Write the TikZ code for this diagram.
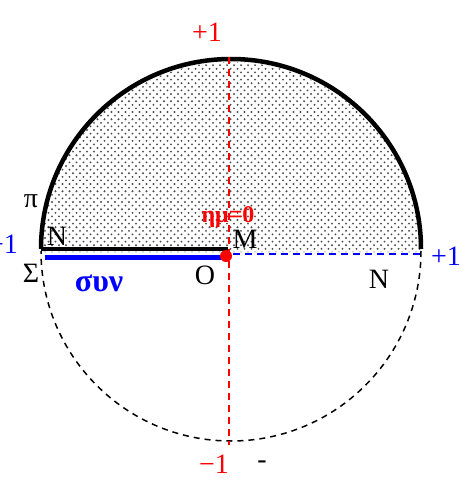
\documentclass[tikz,border=0pt]{standalone}
\usepackage{fontspec}
\setmainfont{Liberation Serif}
\begin{document}
\begin{tikzpicture}[x=1pt,y=-1pt,
  lbl/.style={inner sep=0pt,font=\fontsize{28}{28}\selectfont},
  redlbl/.style={lbl,text=red},
  bluelbl/.style={lbl,text=blue}]
\useasboundingbox (0,0) rectangle (461,482);
\fill[white] (0,0) rectangle (461,482);
% dotted fill of upper half disc
\begin{scope}
\clip (41,252) arc[start angle=180,end angle=360,radius=190] -- cycle;
\foreach \j in {0,...,54}{
  \pgfmathsetmacro{\yy}{58+\j*3.6}
  \pgfmathsetmacro{\off}{mod(\j,2)*3.5}
  \foreach \i in {0,...,55}{
    \fill[black!70] ({38+\off+\i*7},\yy) circle[radius=1.05];
  }
}
\end{scope}
% lower dashed half circle
\coordinate (R) at (421,251);
\coordinate (L) at (41,251);
\draw[black,line width=1.5pt,dash pattern=on 6pt off 5pt] (R) arc[start angle=0,end angle=180,radius=190];
% upper thick arc
\coordinate (A) at (41,249);
\coordinate (M) at (228,249);
\draw[black,line width=4.5pt] (A) arc[start angle=180,end angle=360,radius=190];
\draw[black,line width=4pt] (A) -- (M);
% red vertical dashed axis
\coordinate (T) at (229,57);
\coordinate (B) at (229,445);
\draw[red,line width=1.5pt,dash pattern=on 7pt off 5pt] (T) -- (B);
% blue cos segment
\coordinate (Cl) at (45,257);
\coordinate (Cr) at (226,257);
\draw[blue,line width=5pt] (Cl) -- (Cr);
% blue dashed right
\coordinate (Dl) at (233,254);
\coordinate (Dr) at (420,254);
\draw[blue,line width=1.5pt,dash pattern=on 7pt off 5pt] (Dl) -- (Dr);
% red point
\fill[red] (226,256) circle[radius=6];
% labels
\node[redlbl] (p1) at (207,32) {+1};
\node[redlbl] (m1) at (214,464) {−1};
\node[lbl] (dash) at (262,465) {-};
\node[lbl] (pi) at (31,201) {π};
\node[bluelbl,anchor=east] (bm1) at (18,244) {−1};
\node[lbl] (N1) at (57,236) {N};
\node[lbl] (S) at (31,273) {Σ};
\node[bluelbl,font=\fontsize{32}{32}\selectfont\bfseries] (syn) at (99,283) {συν};
\node[lbl] (O) at (205,275) {O};
\node[redlbl,font=\fontsize{24}{24}\selectfont\bfseries] (hm) at (228,217) {ημ=0};
\node[lbl] (Ml) at (245,239) {M};
\node[bluelbl] (bp1) at (446,256) {+1};
\node[lbl] (N2) at (379,279) {N};
\end{tikzpicture}
\end{document}
